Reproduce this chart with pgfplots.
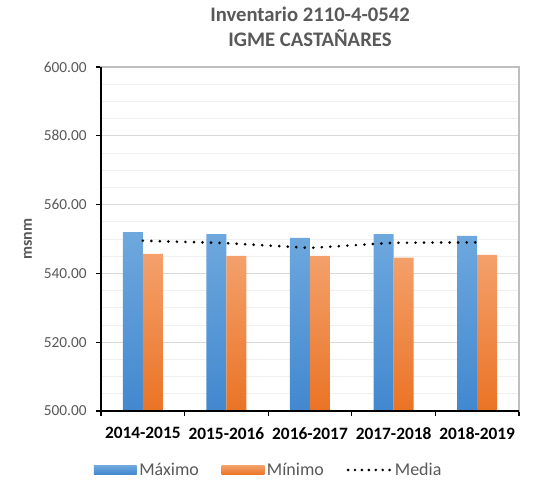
\documentclass[border=0pt]{standalone}
\usepackage{fontspec}
\setmainfont{Carlito}
\usepackage{pgfplots}
\pgfplotsset{compat=1.18}
\definecolor{txtgray}{HTML}{595959}
\definecolor{gridmaj}{HTML}{D9D9D9}
\definecolor{gridmin}{HTML}{F0F0F0}
\definecolor{bordergray}{HTML}{BFBFBF}
\definecolor{bluetop}{HTML}{6EA8DE}
\definecolor{bluebot}{HTML}{4288CF}
\definecolor{orgtop}{HTML}{F4A16C}
\definecolor{orgbot}{HTML}{EA7325}
\begin{document}
\begin{tikzpicture}
\path[use as bounding box, fill=white] (-75.75pt,-54.75pt) rectangle (324pt,308.25pt);
\begin{axis}[
  scale only axis,
  width=313.5pt, height=258pt,
  xmin=-0.5, xmax=4.5,
  ymin=500, ymax=600,
  ytick={500,520,...,600},
  minor y tick num=3,
  xtick={-0.5,0.5,...,4.5},
  x tick label as interval,
  xticklabels={2014-2015,2015-2016,2016-2017,2017-2018,2018-2019},
  xticklabel style={font=\fontsize{13}{15}\selectfont\bfseries, text=black, yshift=-5pt},
  yticklabel style={font=\fontsize{11.5}{13}\selectfont, text=txtgray, xshift=-3.5pt},
  /pgf/number format/.cd, fixed, fixed zerofill, precision=2, assume math mode=true,
  /pgfplots/.cd,
  tick pos=left,
  tick align=outside,
  major tick length=3.8pt,
  minor tick length=0pt,
  tick style={black, line width=0.8pt},
  ymajorgrids, yminorgrids,
  major grid style={gridmaj, line width=0.6pt},
  minor grid style={gridmin, line width=0.6pt},
  axis line style={bordergray, line width=0.9pt},
  clip=false,
  legend columns=3,
  legend style={draw=none, fill=none, font=\fontsize{13.5}{15}\selectfont, text=txtgray,
    at={(rel axis cs:0.402,-0.1715)}, anchor=center,
    /tikz/every even column/.append style={column sep=15pt}},
]
\addplot[ybar, bar width=15pt, bar shift=-7.5pt, draw=none, top color=bluetop, bottom color=bluebot,
  legend image code/.code={\path[top color=bluetop, bottom color=bluebot] (0pt,-3.4pt) rectangle (32pt,3.4pt);}]
  coordinates {(0,552.0) (1,551.4) (2,550.3) (3,551.4) (4,550.9)};
\addlegendentry{Máximo}
\addplot[ybar, bar width=15pt, bar shift=7.5pt, draw=none, top color=orgtop, bottom color=orgbot,
  legend image code/.code={\path[top color=orgtop, bottom color=orgbot] (0pt,-3.4pt) rectangle (32pt,3.4pt);}]
  coordinates {(0,545.7) (1,545.1) (2,545.1) (3,544.6) (4,545.4)};
\addlegendentry{Mínimo}
\addplot[black, line width=2.2pt, line cap=round, dash pattern=on 0pt off 6.4pt, mark=none,
  legend image code/.code={\draw[black, line width=2.2pt, line cap=round, dash pattern=on 0pt off 5.2pt] (0pt,0pt) -- (32pt,0pt);}]
  coordinates {(0,549.5) (1,548.8) (2,547.4) (3,548.9) (4,549.0)};
\addlegendentry{Media}
\draw[black, line width=0.9pt] (rel axis cs:0,1) -- (rel axis cs:0,0) -- (rel axis cs:1,0);
\node[align=center, font=\fontsize{15.5}{19}\selectfont\bfseries, text=txtgray, anchor=south]
  at (rel axis cs:0.5,1) [yshift=11.5pt] {Inventario 2110-4-0542\\IGME CASTAÑARES};
\node[rotate=90, anchor=center, font=\fontsize{12}{14}\selectfont\bfseries, text=txtgray]
  at ([xshift=-54.75pt]rel axis cs:0,0.5) {msnm};
\end{axis}
\end{tikzpicture}
\end{document}
